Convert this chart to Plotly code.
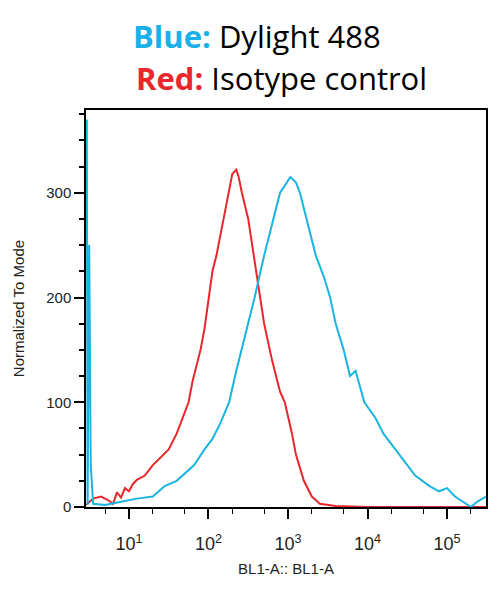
import plotly.graph_objects as go

red_logx = [0.46,0.55,0.65,0.75,0.8,0.85,0.9,0.95,1.0,1.05,1.1,1.2,1.3,1.4,1.5,1.6,1.7,1.75,1.8,1.9,1.95,2.0,2.05,2.1,2.15,2.2,2.25,2.3,2.35,2.38,2.42,2.45,2.5,2.55,2.6,2.65,2.7,2.8,2.9,2.96,3.05,3.1,3.2,3.3,3.4,3.6,4.0,4.5,5.0,5.49]
red_y    = [2,8,10,6,3,14,9,18,15,22,26,30,40,48,55,70,90,100,120,150,170,200,225,240,260,280,300,318,322,315,300,290,275,250,225,200,175,140,110,100,70,50,25,10,3,1,0,0,0,0]
blue_logx = [0.47,0.48,0.5,0.52,0.55,0.7,0.9,1.1,1.3,1.45,1.6,1.7,1.82,1.95,2.05,2.15,2.26,2.35,2.45,2.58,2.7,2.8,2.9,2.97,3.03,3.1,3.15,3.25,3.35,3.45,3.53,3.6,3.7,3.78,3.85,3.96,4.1,4.2,4.3,4.4,4.5,4.6,4.78,4.9,5.0,5.1,5.2,5.3,5.38,5.49]
blue_y    = [370,2,250,40,3,2,5,8,10,20,25,32,40,55,65,80,100,130,160,200,240,270,300,308,315,310,300,270,240,220,200,175,150,125,130,100,85,70,60,50,40,30,20,15,18,10,5,0,5,10]

fig = go.Figure()
fig.add_trace(go.Scatter(x=[10**v for v in red_logx], y=red_y, mode="lines",
                         line=dict(color="#e8262b", width=2), showlegend=False))
fig.add_trace(go.Scatter(x=[10**v for v in blue_logx], y=blue_y, mode="lines",
                         line=dict(color="#1ab4e0", width=2), showlegend=False))

L, R, T, B = 78, 22, 102, 98
fig.update_layout(
    width=500, height=597, margin=dict(l=L, r=R, t=T, b=B, autoexpand=False),
    plot_bgcolor="white", paper_bgcolor="white",
    font=dict(family="Liberation Sans, Arial", size=14, color="#222"),
    annotations=[
        dict(text="<b><span style='color:#1ab0e8'>Blue:</span></b> Dylight 488", x=257, xref="paper",
             y=1.0, yref="paper", yanchor="middle", yshift=74, showarrow=False,
             font=dict(size=31, family="Open Sans", color="black")),
        dict(text="<b><span style='color:#e8262b'>Red:</span></b> Isotype control", x=281, xref="paper",
             y=1.0, yref="paper", yanchor="middle", yshift=32, showarrow=False,
             font=dict(size=31, family="Open Sans", color="black")),
    ],
)
plot_w = 500 - L - R
for a in fig.layout.annotations:
    a.x = (a.x - 8 - L) / plot_w

fig.update_xaxes(type="log", range=[0.46, 5.49], showgrid=False, zeroline=False, automargin=False,
                 showline=True, linecolor="black", linewidth=1.5, mirror=True,
                 tickvals=[10, 100, 1000, 10000, 100000],
                 ticktext=["10<sup>1</sup>", "10<sup>2</sup>", "10<sup>3</sup>", "10<sup>4</sup>", "10<sup>5</sup>"],
                 ticks="outside", ticklen=10, tickwidth=2, tickcolor="black", ticklabelstandoff=10,
                 minor=dict(ticks="outside", ticklen=5, tickcolor="black", tickwidth=1, showgrid=False),
                 tickfont=dict(size=18), title=dict(text="BL1-A:: BL1-A", font=dict(size=15), standoff=10))
fig.update_yaxes(range=[0, 379], showgrid=False, zeroline=False, automargin=False,
                 showline=True, linecolor="black", linewidth=1.5, mirror=True,
                 tickvals=[0, 100, 200, 300], ticks="outside", ticklen=10, tickwidth=2, tickcolor="black",
                 minor=dict(ticks="outside", ticklen=5, tickcolor="black", dtick=25, showgrid=False),
                 tickfont=dict(size=15), title=dict(text="Normalized To Mode", font=dict(size=15), standoff=18))

fig.write_html("out.html")
